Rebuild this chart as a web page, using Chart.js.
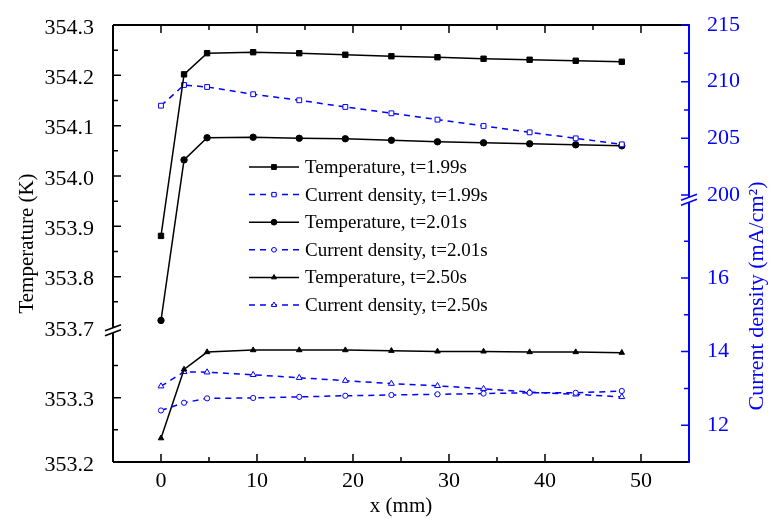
<!DOCTYPE html>
<html lang="en">
<head>
    <meta charset="UTF-8">
    <title>Temperature and current density along x</title>
    <script src="https://cdn.jsdelivr.net/npm/chart.js@4"></script>
    <style>
        body {
            margin: 0;
            background-color: #fff;
        }

        canvas {
            display: block;
        }
    </style>
</head>
<body>
    <canvas id="profileChart" width="772" height="519"></canvas>

    <script>
        // x positions (mm)
        const xVals = [0, 2.4, 4.8, 9.6, 14.4, 19.2, 24, 28.8, 33.6, 38.4, 43.2, 48];

        // temperature (K)
        const temp199 = [353.881, 354.202, 354.244, 354.246, 354.244, 354.241, 354.238, 354.236, 354.233, 354.231, 354.229, 354.227];
        const temp201 = [353.713, 354.032, 354.076, 354.077, 354.075, 354.074, 354.071, 354.068, 354.066, 354.064, 354.062, 354.060];
        const temp250 = [353.237, 353.344, 353.371, 353.374, 353.374, 353.374, 353.373, 353.372, 353.372, 353.371, 353.371, 353.370];

        // current density (mA/cm2)
        const cd199 = [207.88, 209.71, 209.53, 208.89, 208.36, 207.77, 207.21, 206.65, 206.09, 205.53, 205.00, 204.47];
        const cd201 = [12.40, 12.61, 12.73, 12.74, 12.77, 12.80, 12.82, 12.84, 12.86, 12.88, 12.88, 12.93];
        const cd250 = [13.06, 13.45, 13.44, 13.37, 13.29, 13.21, 13.13, 13.07, 12.99, 12.90, 12.84, 12.77];

        // tick values
        const xTicks = [0, 10, 20, 30, 40, 50];
        const xMinor = [5, 15, 25, 35, 45];
        const tempTicks = [353.2, 353.3, 353.7, 353.8, 353.9, 354.0, 354.1, 354.2, 354.3];
        const tempMinor = [353.25, 353.35, 353.75, 353.85, 353.95, 354.05, 354.15, 354.25];
        const cdTicks = [12, 14, 16, 200, 205, 210, 215];
        const cdMinor = [13, 15, 17, 202.5, 207.5, 212.5];

        const SERIF = "'Liberation Serif', 'Times New Roman', serif";
        const BLUE = '#0000ff';

        // both y axes are broken, so values go onto a shared 0..437 axis
        function tempPos(t) {
            return t > 353.55 ? 135 + (t - 353.7) * 503.3 : (t - 353.2) * 643;
        }
        function cdPos(j) {
            return j > 100 ? 267 + (j - 200) * 11.333 : (j - 11) * 36.8;
        }

        function points(vals, map) {
            return xVals.map((x, i) => ({ x: x, y: map(vals[i]) }));
        }

        function tempSet(label, vals, style) {
            return {
                label: label,
                data: points(vals, tempPos),
                yAxisID: 'y',
                borderColor: '#000',
                borderWidth: 1.5,
                pointStyle: style,
                pointRadius: style === 'rect' ? 3.8 : 3.2,
                pointBackgroundColor: '#000',
                pointBorderColor: '#000',
                pointBorderWidth: 1
            };
        }

        function cdSet(label, vals, style) {
            return {
                label: label,
                data: points(vals, cdPos),
                yAxisID: 'y2',
                borderColor: BLUE,
                borderWidth: 1.5,
                borderDash: [6, 5],
                pointStyle: style,
                pointRadius: style === 'circle' ? 2.6 : 3.4,
                pointBackgroundColor: '#fff',
                pointBorderColor: BLUE,
                pointBorderWidth: 1
            };
        }

        // frame, inward ticks and axis breaks
        const axesPlugin = {
            id: 'axes',
            beforeDatasetsDraw(chart) {
                const { ctx, chartArea: a, scales } = chart;
                const sx = scales.x, sy = scales.y, sy2 = scales.y2;
                ctx.save();

                ctx.strokeStyle = '#000';
                ctx.lineWidth = 2;
                ctx.beginPath();
                ctx.moveTo(a.left, a.bottom); ctx.lineTo(a.right, a.bottom);
                ctx.moveTo(a.left, a.top); ctx.lineTo(a.right, a.top);
                ctx.moveTo(a.left, a.top); ctx.lineTo(a.left, a.bottom);
                ctx.stroke();

                function tick(px, py, dx, dy) {
                    ctx.moveTo(px, py);
                    ctx.lineTo(px + dx, py + dy);
                }

                ctx.lineWidth = 1.5;
                ctx.beginPath();
                xTicks.forEach(v => {
                    const p = sx.getPixelForValue(v);
                    tick(p, a.bottom, 0, -8);
                    tick(p, a.top, 0, 8);
                });
                xMinor.forEach(v => {
                    const p = sx.getPixelForValue(v);
                    tick(p, a.bottom, 0, -5);
                    tick(p, a.top, 0, 5);
                });
                tempTicks.forEach(t => tick(a.left, sy.getPixelForValue(tempPos(t)), 8, 0));
                tempMinor.forEach(t => tick(a.left, sy.getPixelForValue(tempPos(t)), 5, 0));
                ctx.stroke();

                // right axis is blue
                ctx.strokeStyle = BLUE;
                ctx.lineWidth = 2;
                ctx.beginPath();
                ctx.moveTo(a.right, a.top - 1); ctx.lineTo(a.right, a.bottom + 1);
                ctx.stroke();
                ctx.lineWidth = 1.5;
                ctx.beginPath();
                cdTicks.forEach(j => tick(a.right, sy2.getPixelForValue(cdPos(j)), -8, 0));
                cdMinor.forEach(j => tick(a.right, sy2.getPixelForValue(cdPos(j)), -5, 0));
                ctx.stroke();

                function breakMark(x0, yc, color) {
                    ctx.fillStyle = '#fff';
                    ctx.beginPath();
                    ctx.moveTo(x0 - 8, yc + 0.5);
                    ctx.lineTo(x0 + 8, yc - 5.5);
                    ctx.lineTo(x0 + 8, yc - 0.5);
                    ctx.lineTo(x0 - 8, yc + 5.5);
                    ctx.closePath();
                    ctx.fill();
                    ctx.strokeStyle = color;
                    ctx.lineWidth = 1.5;
                    ctx.beginPath();
                    ctx.moveTo(x0 - 8, yc + 0.5); ctx.lineTo(x0 + 8, yc - 5.5);
                    ctx.moveTo(x0 - 8, yc + 5.5); ctx.lineTo(x0 + 8, yc - 0.5);
                    ctx.stroke();
                }
                breakMark(a.left, sy.getPixelForValue((tempPos(353.4) + tempPos(353.7)) / 2), '#000');
                breakMark(a.right, sy2.getPixelForValue((cdPos(18) + cdPos(200)) / 2), BLUE);

                ctx.restore();
            }
        };

        // legend box inside the plot, line sample with marker in the middle
        const legendPlugin = {
            id: 'insideLegend',
            afterDatasetsDraw(chart) {
                const ctx = chart.ctx;
                ctx.save();
                chart.data.datasets.forEach((ds, i) => {
                    const yy = 167 + i * 27.6;
                    ctx.strokeStyle = ds.borderColor;
                    ctx.lineWidth = ds.borderWidth;
                    ctx.setLineDash(ds.borderDash || []);
                    ctx.beginPath();
                    ctx.moveTo(249, yy);
                    ctx.lineTo(299, yy);
                    ctx.stroke();
                    ctx.setLineDash([]);
                    ctx.fillStyle = ds.pointBackgroundColor;
                    ctx.strokeStyle = ds.pointBorderColor;
                    ctx.lineWidth = 1;
                    Chart.helpers.drawPoint(ctx, {
                        pointStyle: ds.pointStyle,
                        radius: ds.pointRadius * 0.9,
                        rotation: 0,
                        borderWidth: 1
                    }, 274, yy);
                    ctx.fillStyle = '#000';
                    ctx.font = '19px ' + SERIF;
                    ctx.textBaseline = 'middle';
                    ctx.textAlign = 'left';
                    ctx.fillText(ds.label, 305, yy + 1);
                });
                ctx.restore();
            }
        };

        // right title reads bottom to top, like the left one
        const rightTitlePlugin = {
            id: 'rightTitle',
            afterDraw(chart) {
                const ctx = chart.ctx;
                ctx.save();
                ctx.translate(757, 296);
                ctx.rotate(-Math.PI / 2);
                ctx.fillStyle = BLUE;
                ctx.font = '22px ' + SERIF;
                ctx.textAlign = 'center';
                ctx.textBaseline = 'middle';
                ctx.fillText('Current density (mA/cm\u00B2)', 0, 0);
                ctx.restore();
            }
        };

        Chart.defaults.font.family = SERIF;

        const ctx = document.getElementById('profileChart').getContext('2d');
        const profileChart = new Chart(ctx, {
            type: 'line',
            data: {
                datasets: [
                    tempSet('Temperature, t=1.99s', temp199, 'rect'),
                    cdSet('Current density, t=1.99s', cd199, 'rect'),
                    tempSet('Temperature, t=2.01s', temp201, 'circle'),
                    cdSet('Current density, t=2.01s', cd201, 'circle'),
                    tempSet('Temperature, t=2.50s', temp250, 'triangle'),
                    cdSet('Current density, t=2.50s', cd250, 'triangle')
                ]
            },
            options: {
                responsive: false,
                animation: false,
                layout: {
                    padding: { top: 25, left: 0, right: 0, bottom: 0 }
                },
                plugins: {
                    legend: { display: false },
                    tooltip: { enabled: false }
                },
                scales: {
                    x: {
                        type: 'linear',
                        min: -5,
                        max: 55,
                        grid: { display: false },
                        border: { display: false },
                        afterBuildTicks: s => { s.ticks = xTicks.map(v => ({ value: v })); },
                        afterFit: s => { s.height = 57; },
                        ticks: {
                            autoSkip: false,
                            maxRotation: 0,
                            padding: -2,
                            color: '#000',
                            font: { size: 22 },
                            callback: (v, i) => String(xTicks[i])
                        },
                        title: {
                            display: true,
                            text: 'x (mm)',
                            color: '#000',
                            font: { size: 21 },
                            padding: { top: 0, bottom: 0 }
                        }
                    },
                    y: {
                        type: 'linear',
                        position: 'left',
                        min: 0,
                        max: 437,
                        grid: { display: false },
                        border: { display: false },
                        afterBuildTicks: s => { s.ticks = tempTicks.map(t => ({ value: tempPos(t) })); },
                        afterFit: s => { s.width = 113; },
                        ticks: {
                            autoSkip: false,
                            padding: 11,
                            labelOffset: 3,
                            color: '#000',
                            font: { size: 22 },
                            callback: (v, i) => tempTicks[i].toFixed(1)
                        },
                        title: {
                            display: true,
                            text: 'Temperature (K)',
                            color: '#000',
                            font: { size: 21 },
                            padding: { top: 15, bottom: 0 }
                        }
                    },
                    y2: {
                        type: 'linear',
                        position: 'right',
                        min: 0,
                        max: 437,
                        grid: { display: false },
                        border: { display: false },
                        afterBuildTicks: s => { s.ticks = cdTicks.map(j => ({ value: cdPos(j) })); },
                        afterFit: s => { s.width = 83; },
                        ticks: {
                            autoSkip: false,
                            padding: 10,
                            color: BLUE,
                            font: { size: 22 },
                            callback: (v, i) => String(cdTicks[i])
                        }
                    }
                }
            },
            plugins: [axesPlugin, legendPlugin, rightTitlePlugin]
        });
    </script>
</body>
</html>
